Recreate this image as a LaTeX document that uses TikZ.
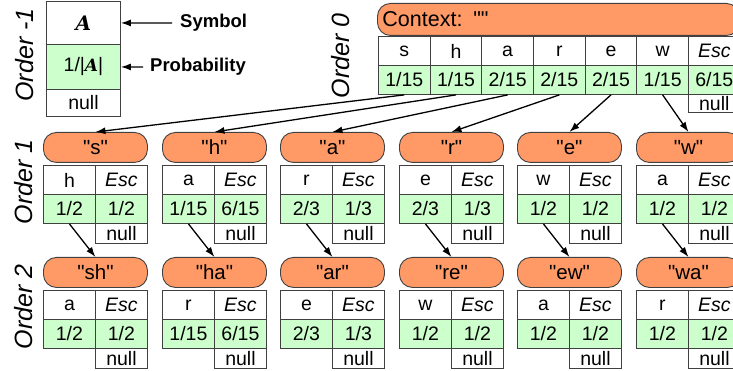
\documentclass[tikz,border=0pt]{standalone}
\usepackage{fontspec}
\setmainfont{Liberation Sans}[Ligatures=TeXOff]
\newfontfamily\afam{DejaVu Serif}[Ligatures=TeXOff]
\usetikzlibrary{arrows.meta}
\definecolor{pillorange}{HTML}{FF9966}
\definecolor{cellgreen}{HTML}{CCFFCC}
\definecolor{linegray}{HTML}{404040}
\tikzset{
  x=1pt, y=-1pt,
  basecell/.style={draw=linegray, line width=0.9pt, inner sep=0pt, anchor=north west,
    font=\fontsize{19.5}{21}\selectfont},
  cellw/.style={basecell, fill=white, minimum width=52pt, minimum height=29pt},
  cellg/.style={basecell, fill=cellgreen, minimum width=52pt, minimum height=29pt},
  nullc/.style={basecell, fill=white, minimum width=52pt, minimum height=20pt},
  pill/.style={draw=linegray, line width=0.9pt, fill=pillorange, rounded corners=13pt,
    inner sep=0pt, anchor=north west, font=\fontsize{20.5}{22}\selectfont},
  orderlbl/.style={rotate=90, inner sep=0pt, font=\fontsize{25}{27}\selectfont\itshape},
  arr/.style={-{Latex[length=10pt,width=7pt]}, line width=1.3pt},
  keylbl/.style={inner sep=0pt, anchor=west, font=\fontsize{18.5}{20}\selectfont\bfseries}
}
\newcommand\symA{{\afam\bfseries\itshape A}}
\newcommand\ppmgroup[7]{%
  \node[pill, minimum width=104pt, minimum height=30pt] (#1pill) at (#2,#3) {"#4"};
  \node[cellw] (#1s) at (#2,#3+33) {#5};
  \node[cellw] (#1e) at (#2+52,#3+33) {\textit{Esc}};
  \node[cellg] (#1p) at (#2,#3+62) {#6};
  \node[cellg] (#1pe) at (#2+52,#3+62) {#7};
  \node[nullc] (#1n) at (#2+52,#3+91) {null};
}
\begin{document}
\begin{tikzpicture}
\clip (0,0) rectangle (733,371);
% Order -1
\node[orderlbl] (lm1) at (25,55) {Order -1};
\node[basecell, fill=white, minimum width=74pt, minimum height=43pt, font=\fontsize{20}{22}\selectfont] (mA) at (46,1) {\symA};
\node[basecell, fill=cellgreen, minimum width=74pt, minimum height=45pt] (mP) at (46,44) {1/|{\fontsize{17}{19}\selectfont\symA}|};
\node[basecell, fill=white, minimum width=74pt, minimum height=27pt] (mN) at (46,89) {null};
\node[keylbl] (symlbl) at (180,23) {Symbol};
\node[keylbl] (problbl) at (150,67) {Probability};
\draw[arr] (symlbl.west) ++(-8,0) -- (mA.east);
\draw[arr] (problbl.west) ++(-7,0) -- (mP.east);
% Order 0
\node[orderlbl] (l0) at (341,56) {Order 0};
\node[pill, minimum width=362pt, minimum height=32pt, font=\fontsize{21.5}{23}\selectfont,
  text width=352pt, align=left] (ctx) at (377,3) {Context: ""};
\foreach \s/\p [count=\i from 0] in {s/1\slash15, h/1\slash15, a/2\slash15, r/2\slash15, e/2\slash15, w/1\slash15} {
  \node[cellw, minimum width=51.7pt] (o0s\i) at (378+51.67*\i,36) {\s};
  \node[cellg, minimum width=51.7pt] (o0p\i) at (378+51.67*\i,65) {\p};
}
\node[cellw, minimum width=51.7pt] (o0se) at (688,36) {\textit{Esc}};
\node[cellg, minimum width=51.7pt] (o0pe) at (688,65) {6/15};
\node[nullc, minimum width=51.7pt, minimum height=18pt] (o0n) at (688,94) {null};
% Order 1
\node[orderlbl] (l1) at (24,182) {Order 1};
\ppmgroup{gs}{43}{132}{s}{h}{1/2}{1/2}
\ppmgroup{gh}{162}{132}{h}{a}{1/15}{6/15}
\ppmgroup{ga}{280}{132}{a}{r}{2/3}{1/3}
\ppmgroup{gr}{399}{132}{r}{e}{2/3}{1/3}
\ppmgroup{ge}{517}{132}{e}{w}{1/2}{1/2}
\ppmgroup{gw}{636}{132}{w}{a}{1/2}{1/2}
% Order 2
\node[orderlbl] (l2) at (24,307) {Order 2};
\ppmgroup{gsh}{43}{257}{sh}{a}{1/2}{1/2}
\ppmgroup{gha}{162}{257}{ha}{r}{1/15}{6/15}
\ppmgroup{gar}{280}{257}{ar}{e}{2/3}{1/3}
\ppmgroup{gre}{399}{257}{re}{w}{1/2}{1/2}
\ppmgroup{gew}{517}{257}{ew}{a}{1/2}{1/2}
\ppmgroup{gwa}{636}{257}{wa}{r}{1/2}{1/2}
% arrows order 0 -> 1
\draw[arr] (o0p0.south) -- (gspill.north);
\draw[arr] (o0p1.south) -- (ghpill.north);
\draw[arr] (o0p2.south) -- (gapill.north);
\draw[arr] (o0p3.south) -- (grpill.north);
\draw[arr] (o0p4.south) -- (gepill.north);
\draw[arr] (o0p5.south) -- (gwpill.north);
% arrows order 1 -> 2
\draw[arr] (gsp.south) -- (gshpill.north);
\draw[arr] (ghp.south) -- (ghapill.north);
\draw[arr] (gap.south) -- (garpill.north);
\draw[arr] (grp.south) -- (grepill.north);
\draw[arr] (gep.south) -- (gewpill.north);
\draw[arr] (gwp.south) -- (gwapill.north);
\end{tikzpicture}
\end{document}
